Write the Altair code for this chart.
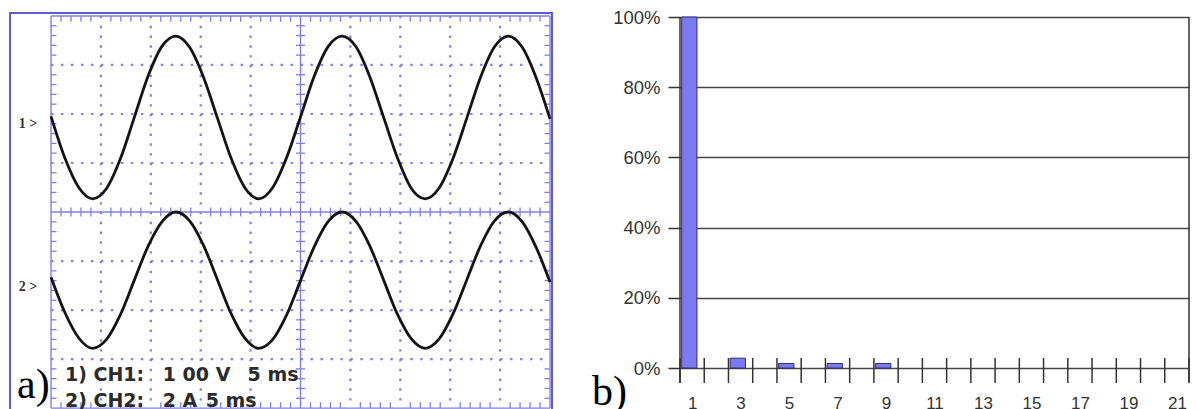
import altair as alt
import pandas as pd

# ---------------- data: panel a (oscilloscope traces) ----------------
t_ms = [0.0, 1.39, 2.78, 4.17, 5.56, 6.94, 8.33, 9.72, 11.11, 12.5, 13.89, 15.28,
        16.67, 18.06, 19.44, 20.83, 22.22, 23.61, 25.0, 26.39, 27.78, 29.17, 30.56, 31.94,
        33.33, 34.72, 36.11, 37.5, 38.89, 40.28, 41.67, 43.06, 44.44, 45.83, 47.22, 48.61, 50.0]
# vertical position in screen divisions (+4 top ... -4 bottom)
ch1_div = [1.95, 1.10, 0.50, 0.27, 0.48, 1.08, 1.92, 2.77, 3.38, 3.59, 3.36, 2.75,
           1.92, 1.09, 0.49, 0.27, 0.50, 1.11, 1.94, 2.78, 3.38, 3.59, 3.37, 2.76,
           1.93, 1.10, 0.48, 0.27, 0.49, 1.09, 1.92, 2.76, 3.37, 3.59, 3.36, 2.74, 1.90]
ch2_div = [-1.33, -2.05, -2.57, -2.78, -2.60, -2.10, -1.40, -0.70, -0.20, 0.00, -0.18, -0.68,
           -1.38, -2.08, -2.58, -2.78, -2.60, -2.10, -1.40, -0.70, -0.19, 0.00, -0.19, -0.69,
           -1.39, -2.09, -2.59, -2.78, -2.59, -2.08, -1.38, -0.68, -0.18, 0.00, -0.20, -0.72, -1.43]
channel_tags = ["1 >", "2 >"]
scope_line1 = ["1) CH1:", "1 00 V", "5 ms"]
scope_line2 = ["2) CH2:", "2 A", "5 ms"]

# ---------------- data: panel b (harmonic spectrum) ----------------
harmonics = list(range(1, 22))
harmonic_pct = [100, 0, 2.8, 0, 1.3, 0, 1.3, 0, 1.3, 0, 0, 0, 0, 0, 0, 0, 0, 0, 0, 0, 0]
odd_labels = [1, 3, 5, 7, 9, 11, 13, 15, 17, 19, 21]
pct_ticks = [0, 20, 40, 60, 80, 100]

# ---------------- panel a ----------------
XA = alt.Scale(domain=[-4.11, 50.2], nice=False, zero=False)
YA = alt.Scale(domain=[-4.08, 4.06], nice=False, zero=False)


def xa(f):
    return alt.X(f, type="quantitative", scale=XA, axis=None)


def ya(f):
    return alt.Y(f, type="quantitative", scale=YA, axis=None)


GRID = "#7f7fe6"
dot_v = pd.DataFrame([dict(x=v, x2=v, y=4, y2=-4) for v in [5, 10, 15, 20, 30, 35, 40, 45]])
dot_h = pd.DataFrame([dict(x=0, x2=50, y=v, y2=v) for v in [-3, -2, -1, 1, 2, 3]])
solid = pd.DataFrame([dict(x=v, x2=v, y=4, y2=-4) for v in [0, 25, 50]] +
                     [dict(x=0, x2=50, y=v, y2=v) for v in [-4, 0, 4]])
minor = []
for m in range(1, 50):
    if m % 5:
        minor += [dict(x=m, x2=m, y=4, y2=3.88), dict(x=m, x2=m, y=-4, y2=-3.88),
                  dict(x=m, x2=m, y=-0.09, y2=0.09)]
for k in range(-19, 20):
    if k % 5:
        yv = k * 0.2
        minor += [dict(x=0, x2=0.55, y=yv, y2=yv), dict(x=49.45, x2=50, y=yv, y2=yv),
                  dict(x=24.55, x2=25.45, y=yv, y2=yv)]
minor = pd.DataFrame(minor)


def rules(df, **kw):
    return alt.Chart(df).mark_rule(**kw).encode(x=xa("x"), x2="x2", y=ya("y"), y2="y2")


l_dot_v = rules(dot_v, color=GRID, strokeWidth=2.2, strokeDash=[2.4, 7.4])
l_dot_h = rules(dot_h, color=GRID, strokeWidth=2.2, strokeDash=[2.4, 7.58])
l_solid = rules(solid, color=GRID, strokeWidth=1.4)
l_minor = rules(minor, color=GRID, strokeWidth=1.3)

wave_df = pd.concat([
    pd.DataFrame({"t": t_ms, "v": ch1_div, "ch": "CH1"}),
    pd.DataFrame({"t": t_ms, "v": ch2_div, "ch": "CH2"}),
])
wave = alt.Chart(wave_df).mark_line(color="#141414", strokeWidth=2.8, interpolate="monotone").encode(
    x=xa("t"), y=ya("v"), detail="ch:N")

tag_df = pd.DataFrame({"label": channel_tags, "x": [-2.3, -2.3], "y": [1.80, -1.53]})
tags = alt.Chart(tag_df).mark_text(font="Liberation Serif", fontSize=14, fontWeight="bold",
                                   color="#333333", align="center", baseline="middle").encode(
    x=xa("x"), y=ya("y"), text="label:N")

info_df = pd.DataFrame({
    "label": scope_line1 + scope_line2,
    "x": [1.4, 11.2, 19.7, 1.4, 11.2, 15.5],
    "y": [-3.33, -3.33, -3.33, -3.86, -3.86, -3.86],
})
info = alt.Chart(info_df).mark_text(font="DejaVu Sans", fontSize=19, fontWeight="bold",
                                    color="#2b2b2b", align="left", baseline="middle").encode(
    x=xa("x"), y=ya("y"), text="label:N")

a_lab = alt.Chart(pd.DataFrame({"label": ["a)"], "x": [-3.4], "y": [-3.8]})).mark_text(
    font="Liberation Serif", fontSize=42, color="#000000", align="left", baseline="alphabetic").encode(
    x=xa("x"), y=ya("y"), text="label:N")

panel_a = alt.layer(l_dot_v, l_dot_h, l_solid, l_minor, wave, tags, info, a_lab).properties(
    width=542, height=399,
    view=alt.ViewBackground(stroke="#5c5cd6", strokeWidth=2))

# ---------------- panel b ----------------
XB = alt.Scale(domain=[0.5, 21.5], nice=False, zero=False)
YB = alt.Scale(domain=[-4.84, 101.14], nice=False, zero=False)
AXB = alt.Axis(values=odd_labels, grid=False, domain=False, ticks=False, tickSize=0,
               labelPadding=10, labelFont="Liberation Sans", labelFontSize=17,
               labelColor="#333333", title=None, labelFlush=False)
AYB = alt.Axis(values=pct_ticks, grid=True, gridColor="#474747", gridWidth=1.5,
               domain=False, tickSize=12, tickColor="#333333", tickWidth=1.5,
               labelPadding=8, labelFont="Liberation Sans", labelFontSize=18.5,
               labelColor="#333333", labelExpr="datum.value + '%'", title=None)


def xb(f):
    return alt.X(f, type="quantitative", scale=XB, axis=AXB)


def yb(f):
    return alt.Y(f, type="quantitative", scale=YB, axis=AYB)


bar_df = pd.DataFrame({"h": harmonics, "pct": harmonic_pct})
bar_df["lo"] = bar_df["h"] - 0.43
bar_df["hi"] = bar_df["h"] + 0.2
bar_df["base"] = 0.0

bars = alt.Chart(bar_df).transform_filter("datum.pct > 0").mark_rect(
    fill="#7a7af2", stroke="#2e2e70", strokeWidth=1).encode(
    x=xb("lo"), x2="hi", y=yb("pct"), y2="base")

frame = [dict(x=i + 0.5, x2=i + 0.5, y=-4.27, y2=2.85) for i in range(22)]
frame += [dict(x=0.5, x2=0.5, y=-4.27, y2=100), dict(x=21.5, x2=21.5, y=-3.9, y2=100)]
frame_df = pd.DataFrame(frame)
frame_rules = alt.Chart(frame_df).mark_rule(color="#333333", strokeWidth=1.5).encode(
    x=xb("x"), x2="x2", y=yb("y"), y2="y2")

b_lab = alt.Chart(pd.DataFrame({"label": ["b)"], "x": [-3.13], "y": [-10.5]})).mark_text(
    font="Liberation Serif", fontSize=42, color="#000000", align="left", baseline="alphabetic").encode(
    x=xb("x"), y=yb("y"), text="label:N")

panel_b = alt.layer(bars, frame_rules, b_lab).properties(width=509, height=372)

chart = alt.hconcat(panel_a, panel_b, spacing=128, bounds="flush").properties(
    padding={"left": 1, "top": 0, "right": 0, "bottom": 0},
    background="white",
).configure_view(stroke=None)

chart.save("out.html", embed_options={"renderer": "svg", "actions": False})
